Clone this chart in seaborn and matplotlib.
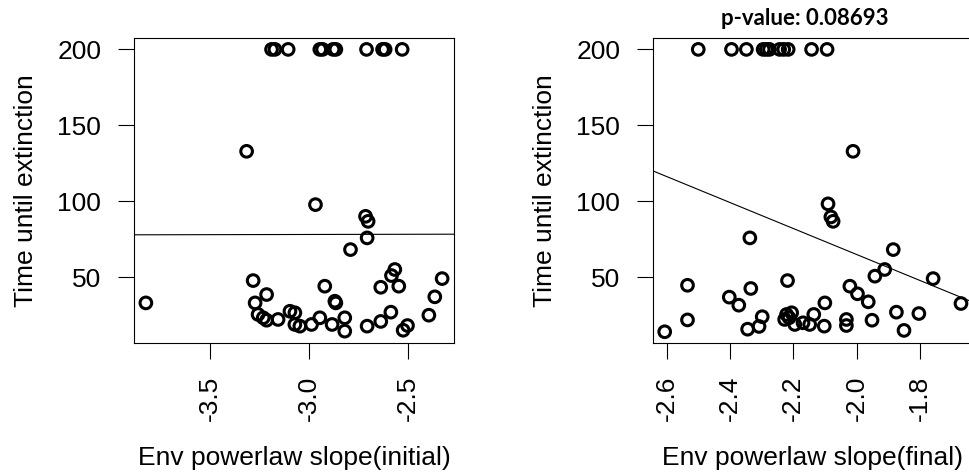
import matplotlib
matplotlib.use("Agg")
import matplotlib.pyplot as plt
import pandas as pd
import seaborn as sns

# initial slope vs time until extinction
slope_initial = [-3.190, -3.173, -3.106, -2.946, -2.932, -2.879, -2.865, -2.710, -2.629, -2.616, -2.530,
                 -3.316, -2.968, -2.715, -2.702, -2.707, -2.791, -2.567, -2.584, -3.283, -2.328,
                 -2.921, -2.638, -2.547, -3.825, -3.215, -3.273, -2.870, -2.865, -2.365,
                 -3.258, -3.232, -3.215, -3.157, -3.097, -3.072, -3.072, -3.047, -2.988, -2.946,
                 -2.884, -2.820, -2.820, -2.707, -2.638, -2.587, -2.525, -2.503, -2.395]
time_initial = [200, 200, 200, 200, 200, 200, 200, 200, 200, 200, 200,
                132.9, 97.8, 90.1, 86.8, 75.9, 68.2, 55.1, 51.1, 47.8, 49.1,
                44.1, 43.4, 44.1, 33.1, 38.6, 33.1, 34.2, 33.1, 37.1,
                25.5, 23.3, 21.7, 22.2, 27.6, 26.6, 18.9, 17.8, 18.9, 23.3,
                18.9, 23.3, 14.5, 17.8, 20.9, 27.0, 15.1, 18.2, 25.0]

# final slope vs time until extinction
slope_final = [-2.500, -2.395, -2.348, -2.295, -2.285, -2.275, -2.243, -2.230, -2.216, -2.142, -2.093,
               -2.011, -2.090, -2.081, -2.074, -2.337, -1.884, -1.911, -1.942, -2.218, -1.758,
               -2.534, -2.334, -2.021, -1.670, -2.402, -2.372, -1.997, -1.963, -2.100,
               -2.606, -2.534, -2.344, -2.308, -2.298, -2.227, -2.221, -2.213, -2.205, -2.195,
               -2.169, -2.148, -2.135, -2.102, -2.032, -2.032, -1.951, -1.874, -1.850, -1.803]
time_final = [200, 200, 200, 200, 200, 200, 200, 200, 200, 200, 200,
              132.9, 98.3, 89.7, 86.8, 75.9, 68.2, 55.1, 50.7, 47.8, 49.1,
              44.7, 42.6, 44.1, 32.7, 36.9, 31.6, 39.1, 33.8, 33.1,
              14.1, 21.9, 15.8, 17.6, 24.0, 22.2, 25.5, 23.3, 26.6, 18.9,
              20.0, 18.9, 25.5, 17.8, 22.2, 18.2, 21.7, 27.0, 15.0, 26.1]

# lm fits (intercept, slope)
fit_initial = (78.9, 0.25)
fit_final = (-106.0, -85.5)
p_value_final = "0.08693"

ticks_initial = [-3.5, -3.0, -2.5]
ticks_final = [-2.6, -2.4, -2.2, -2.0, -1.8]
yticks = [50, 100, 150, 200]

sns.set_theme(style="white")
plt.rcParams["font.family"] = ["Liberation Sans", "DejaVu Sans"]
plt.rcParams["text.color"] = "black"
plt.rcParams["axes.labelcolor"] = "black"
plt.rcParams["xtick.color"] = "black"
plt.rcParams["ytick.color"] = "black"
plt.rcParams["axes.edgecolor"] = "black"
plt.rcParams["axes.linewidth"] = 0.8
plt.rcParams["xtick.major.size"] = 11.5
plt.rcParams["ytick.major.size"] = 11.5
plt.rcParams["xtick.major.width"] = 0.8
plt.rcParams["ytick.major.width"] = 0.8
plt.rcParams["xtick.major.pad"] = 12
plt.rcParams["ytick.major.pad"] = 12
plt.rcParams["xtick.bottom"] = True
plt.rcParams["ytick.left"] = True

fig = plt.figure(figsize=(9.69, 4.75), dpi=100)
ax1 = fig.add_axes([134 / 969, 132 / 475, 320 / 969, 305 / 475])
ax2 = fig.add_axes([653 / 969, 132 / 475, 320 / 969, 305 / 475])

panels = [
    (ax1, slope_initial, time_initial, fit_initial, ticks_initial, (-3.885, -2.268), "Env powerlaw slope(initial)"),
    (ax2, slope_final, time_final, fit_final, ticks_final, (-2.643, -1.632), "Env powerlaw slope(final)"),
]

for ax, xs, ys, fit, xt, xlim, xlabel in panels:
    df = pd.DataFrame({"slope": xs, "time": ys})
    sns.scatterplot(data=df, x="slope", y="time", ax=ax, marker="o", s=70,
                    facecolors="none", edgecolor="black", linewidth=2.2)
    ax.axline((0, fit[0]), slope=fit[1], color="black", linewidth=0.8)
    ax.set_xlim(*xlim)
    ax.set_ylim(6.7, 207.5)
    ax.set_xticks(xt)
    ax.set_xticklabels([f"{t:.1f}" for t in xt], rotation=90, fontsize=19)
    ax.set_yticks(yticks)
    ax.set_yticklabels([str(t) for t in yticks], fontsize=19)
    ax.set_xlabel(xlabel, fontsize=19, labelpad=18)
    ax.set_ylabel("Time until extinction", fontsize=19, labelpad=14)
    for sp in ax.spines.values():
        sp.set_visible(True)

fig.text(805 / 969, 1 - 25 / 475, "p-value: " + p_value_final, ha="center", va="baseline",
         fontsize=16, fontweight="bold", family=["Lato", "DejaVu Sans"])

fig.savefig("out.png", dpi=100)
